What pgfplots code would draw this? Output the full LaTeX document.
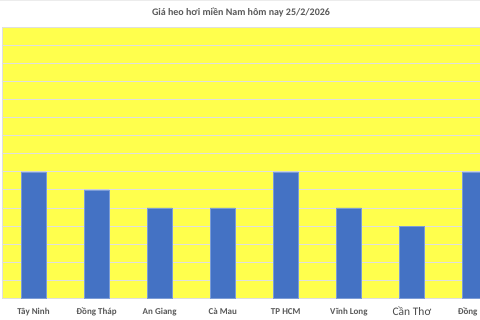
\documentclass[border=0pt]{standalone}
\usepackage{pgfplots}
\pgfplotsset{compat=1.18}
\usepackage{fontspec}
\setmainfont{Carlito}
\definecolor{plotyellow}{RGB}{255,255,77}
\definecolor{barblue}{RGB}{68,114,196}
\definecolor{txtgray}{RGB}{89,89,89}
\begin{document}
\begin{tikzpicture}
\path[use as bounding box] (0,0) rectangle (480pt,320pt);
\clip (0,0) rectangle (480pt,320pt);
\fill[white] (0,0) rectangle (480pt,320pt);
\begin{axis}[
  at={(2pt,21.7pt)}, anchor=south west,
  scale only axis, width=478pt, height=271pt,
  xmin=-0.5, xmax=7.08,
  ymin=57, ymax=72,
  ytick={57,58,...,72}, yticklabels={},
  ymajorgrids, grid style={gray!25, line width=0.8pt},
  major tick length=0pt,
  xtick={0,1,2,3,4,5,6,7},
  xticklabels={Tây Ninh, Đồng Tháp, An Giang, Cà Mau, TP HCM, Vĩnh Long, {\fontsize{11.5}{12}\selectfont\mdseries\color{black!70}Cần Thơ}, Đồng Nai},
  xticklabel style={font=\fontsize{9}{10}\selectfont\bfseries, text=txtgray, anchor=center, yshift=-13.4pt},
  axis background/.style={fill=plotyellow},
  axis line style={gray!25, line width=0.8pt},
  clip=true,
  title={Giá heo hơi miền Nam hôm nay 25/2/2026},
  title style={font=\fontsize{10}{12}\selectfont\bfseries, text=txtgray, at={(0.5,1)}, anchor=center, yshift=9pt},
]
\addplot[ybar, bar width=25pt, fill=barblue, draw=barblue!70!white, line width=0.4pt, bar shift=0pt]
  coordinates {(0,64) (1,63) (2,62) (3,62) (4,64) (5,62) (6,61) (7,64)};
\end{axis}
\draw[gray!15, line width=0.8pt] (0,319.6pt) -- (480pt,319.6pt);
\end{tikzpicture}
\end{document}
